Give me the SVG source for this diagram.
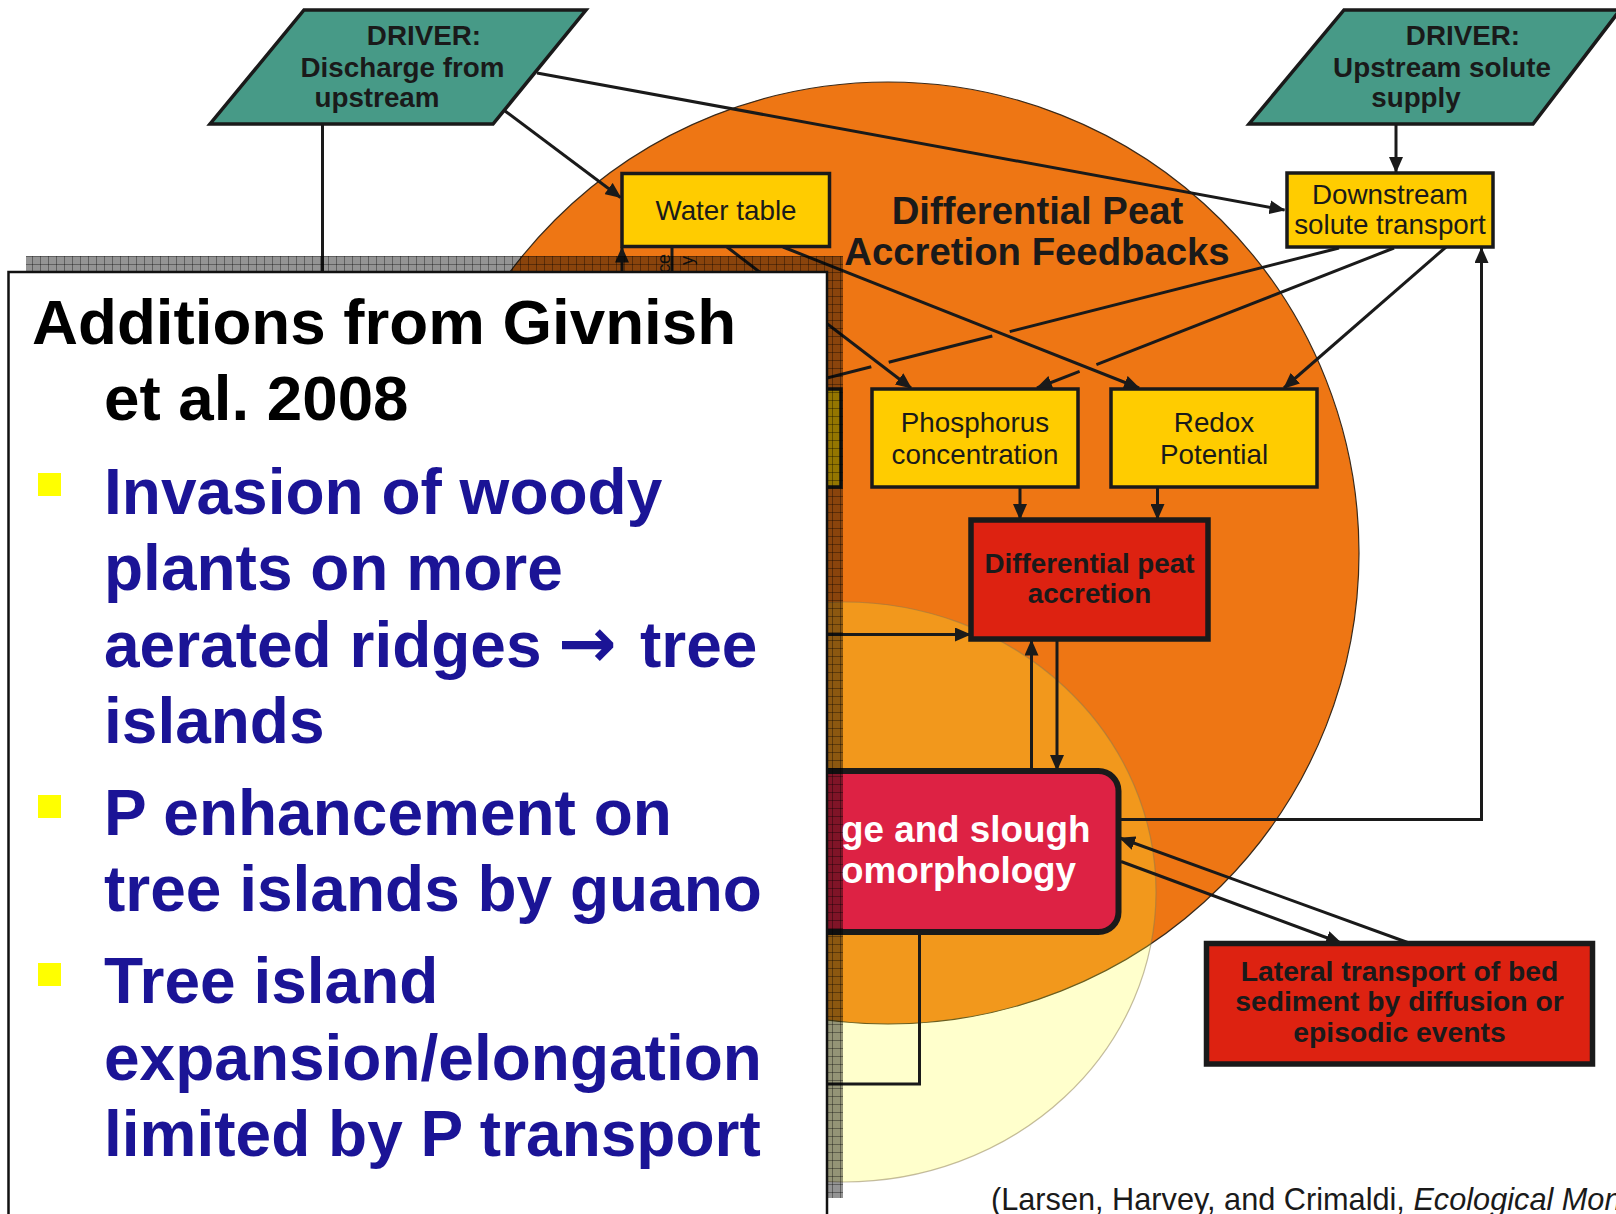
<svg xmlns="http://www.w3.org/2000/svg" width="1616" height="1214" viewBox="0 0 1616 1214">
<style>
.box{stroke:#1a1a1a;stroke-width:3.5}
.yel{fill:#FFCC00}
.teal{fill:#479A87}
.red{fill:#DD2211;stroke:#1a1a1a;stroke-width:5.5}
.crim{fill:#DD2244;stroke:#1a1a1a;stroke-width:6}
.t{font-family:"Liberation Sans",Arial,sans-serif;fill:#1a1a1a;text-anchor:middle;font-size:27.8px}
.b{font-weight:bold}
.c{fill:none;stroke:#1a1a1a;stroke-width:3}
.a{marker-end:url(#ah)}
.pt{font-family:"Liberation Sans",Arial,sans-serif;font-weight:bold;font-size:64px;fill:#1B1496}
.bul{fill:#FFFF00}
</style>
<defs>
<marker id="ah" viewBox="0 0 16 14" refX="15" refY="7" markerWidth="16" markerHeight="14" markerUnits="userSpaceOnUse" orient="auto">
<path d="M0,0 L16,7 L0,14 z" fill="#1a1a1a"/>
</marker>
<pattern id="sh" width="8" height="8" patternUnits="userSpaceOnUse">
<rect width="8" height="8" fill="#000" fill-opacity="0.42"/>
<path d="M0,0.5H8M0.5,0V8" stroke="#000" stroke-opacity="0.35" stroke-width="1"/>
</pattern>
</defs>
<rect width="1616" height="1214" fill="#fff"/>

<g id="background">
<circle cx="888" cy="553" r="471" fill="#EE7614" stroke="#3a2a1a" stroke-width="1.2"/>
<ellipse cx="844" cy="892" rx="312" ry="290" fill="#FFFF33" fill-opacity="0.25" stroke="#8a7a50" stroke-opacity="0.5" stroke-width="1.2"/>
<text class="t b" x="1037.5" y="224" style="font-size:38.3px">Differential Peat</text>
<text class="t b" x="1037" y="265" style="font-size:38.3px">Accretion Feedbacks</text>
</g>

<g id="connectors">
<path class="c" d="M322.5,124 V300"/>
<path class="c a" d="M505,111 L620.5,197.5"/>
<path class="c a" d="M537,73 L1284.5,210"/>
<path class="c a" d="M1396,124 V172"/>
<path class="c a" d="M783,247 L1139,388"/>
<path class="c a" d="M727,247 L911,388"/>
<path class="c" d="M1339,248 L1009.7,331.6 M992.3,336 L888.7,362.3 M871.3,366.7 L760,395"/>
<path class="c" d="M1394,248 L1096.4,364.7"/>
<path class="c a" d="M1079.6,371.3 L1037,388"/>
<path class="c a" d="M1446,247 L1284,388"/>
<path class="c a" d="M1020,487 V519"/>
<path class="c a" d="M1157.5,487 V519"/>
<path class="c a" d="M790,634.5 H970"/>
<path class="c a" d="M1031.5,771 V640.5"/>
<path class="c a" d="M1057,639 V770"/>
<path class="c a" d="M1118.5,819.5 H1481.5 V248"/>
<path class="c a" d="M1409,943 L1120,838"/>
<path class="c a" d="M1121,861.5 L1341,943"/>
<path class="c" d="M919.5,932 V1084 H790"/>
<path class="c a" d="M622,300 V247.5"/>
<path class="c" d="M672,246.5 V300"/>
</g>

<g id="hidden-fragments">
<rect x="640" y="389" width="201" height="98" class="yel box" stroke-width="4"/>
<text class="t" transform="translate(670,254) rotate(-90)" style="text-anchor:end;font-size:18px">ce</text>
<text class="t" transform="translate(693,256) rotate(-90)" style="text-anchor:end;font-size:18px">y</text>
</g>

<g id="driver-discharge">
<polygon points="304,10 586,10 493,124 210,124" class="teal box" stroke-width="4"/>
<text class="t b" x="424" y="45">DRIVER:</text>
<text class="t b" x="402.5" y="76.5">Discharge from</text>
<text class="t b" x="377" y="106.5">upstream</text>
</g>

<g id="driver-solute">
<polygon points="1344,10 1620,10 1533,124 1249,124" class="teal box" stroke-width="4"/>
<text class="t b" x="1463" y="45">DRIVER:</text>
<text class="t b" x="1442" y="76.5">Upstream solute</text>
<text class="t b" x="1416" y="106.5">supply</text>
</g>

<g id="water-table">
<rect x="622" y="173.5" width="207.5" height="73" class="yel box"/>
<text class="t" x="726" y="220">Water table</text>
</g>

<g id="downstream-solute">
<rect x="1287" y="173" width="206" height="74" class="yel box"/>
<text class="t" x="1390" y="203.5">Downstream</text>
<text class="t" x="1390" y="233.5">solute transport</text>
</g>

<g id="phosphorus">
<rect x="872" y="389" width="206" height="98" class="yel box"/>
<text class="t" x="975" y="432">Phosphorus</text>
<text class="t" x="975" y="463.5">concentration</text>
</g>

<g id="redox">
<rect x="1111" y="389" width="206" height="98" class="yel box"/>
<text class="t" x="1214" y="432">Redox</text>
<text class="t" x="1214" y="463.5">Potential</text>
</g>

<g id="peat-accretion">
<rect x="971" y="520" width="237" height="119" class="red"/>
<text class="t b" x="1089.5" y="572.5">Differential peat</text>
<text class="t b" x="1089.5" y="602.5">accretion</text>
</g>

<g id="ridge-slough">
<rect x="600" y="771" width="518.5" height="161" rx="20" ry="20" class="crim"/>
<text class="t b" x="841" y="842" style="text-anchor:start;font-size:36.8px;fill:#fff">ge and slough</text>
<text class="t b" x="841" y="883" style="text-anchor:start;font-size:36.8px;fill:#fff">omorphology</text>
</g>

<g id="lateral-transport">
<rect x="1206.5" y="943.5" width="386" height="120.5" class="red"/>
<text class="t b" x="1399.5" y="981" style="font-size:28.3px">Lateral transport of bed</text>
<text class="t b" x="1399.5" y="1011" style="font-size:28.3px">sediment by diffusion or</text>
<text class="t b" x="1399.5" y="1041.5" style="font-size:28.3px">episodic events</text>
</g>

<g id="panel">
<rect x="26" y="256" width="817" height="942" fill="url(#sh)"/>
<rect x="8.5" y="272" width="818.5" height="960" fill="#fff" stroke="#111" stroke-width="2.5"/>
<text x="32" y="344" style="font-family:'Liberation Sans',Arial,sans-serif;font-weight:bold;font-size:63.7px;fill:#000">Additions from Givnish</text>
<text x="104" y="420" style="font-family:'Liberation Sans',Arial,sans-serif;font-weight:bold;font-size:63.7px;fill:#000">et al. 2008</text>
<rect x="38" y="473" width="23" height="23" class="bul"/>
<rect x="38" y="795" width="23" height="23" class="bul"/>
<rect x="38" y="963" width="23" height="23" class="bul"/>
<text class="pt" x="104" y="514">Invasion of woody</text>
<text class="pt" x="104" y="590">plants on more</text>
<text class="pt" x="104" y="667">aerated ridges <tspan x="558" style="font-family:'DejaVu Sans',sans-serif;font-size:70px">→</tspan> <tspan x="640">tree</tspan></text>
<text class="pt" x="104" y="743">islands</text>
<text class="pt" x="104" y="835">P enhancement on</text>
<text class="pt" x="104" y="911">tree islands by guano</text>
<text class="pt" x="104" y="1003">Tree island</text>
<text class="pt" x="104" y="1080">expansion/elongation</text>
<text class="pt" x="104" y="1156">limited by P transport</text>
</g>

<text x="991" y="1209.5" style="font-family:'Liberation Sans',Arial,sans-serif;font-size:30.7px;fill:#1a1a1a">(Larsen, Harvey, and Crimaldi, <tspan font-style="italic">Ecological Mon</tspan></text>
</svg>
